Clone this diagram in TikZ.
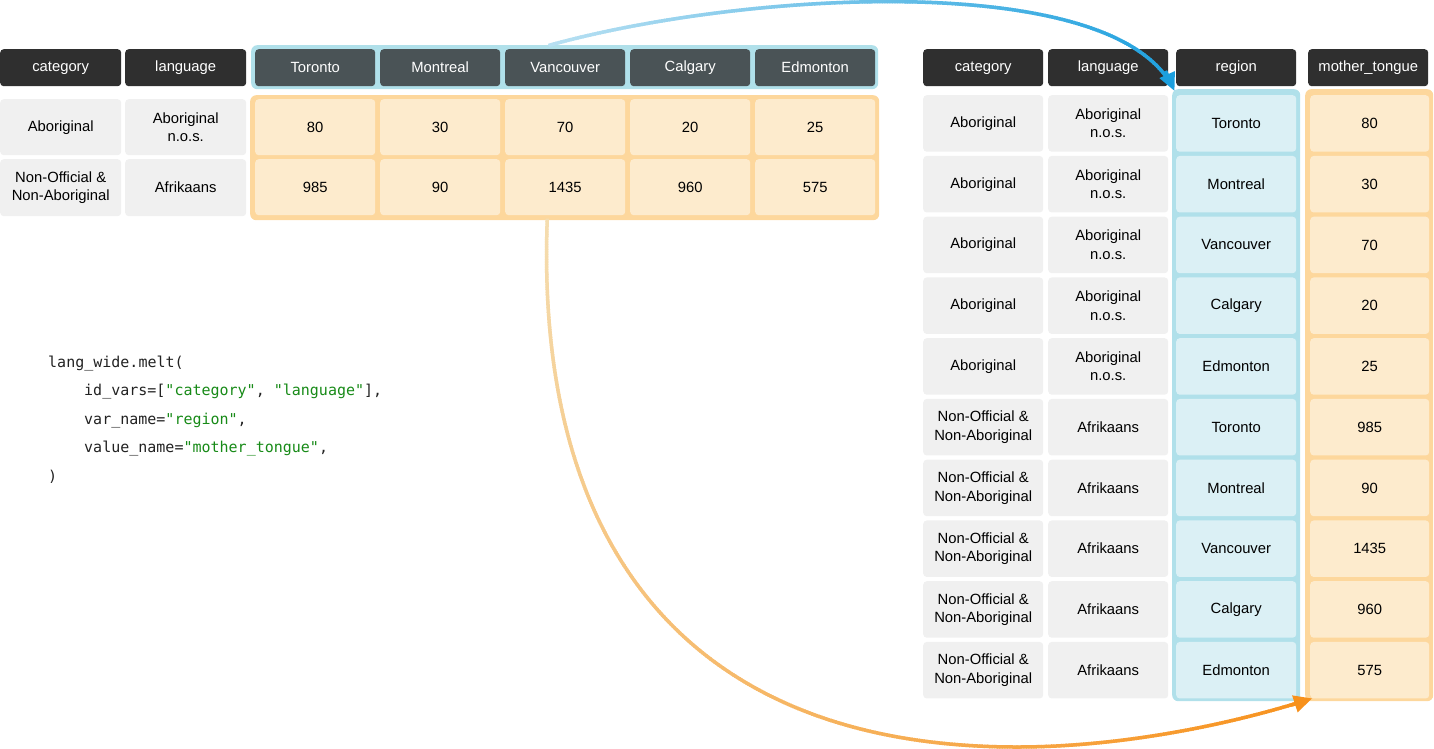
\documentclass[tikz,border=0pt]{standalone}
\usepackage{fontspec}
\setmainfont{Liberation Sans}
\newfontfamily\codefont{DejaVu Sans Mono}
\usetikzlibrary{arrows.meta,decorations.markings,calc}
\definecolor{hdrdark}{HTML}{2F2F2F}
\definecolor{hdrcity}{HTML}{4A5356}
\definecolor{greycell}{HTML}{F0F0F0}
\definecolor{blueout}{HTML}{B0E0EA}
\definecolor{bluecell}{HTML}{DBF0F5}
\definecolor{orout}{HTML}{FDD79C}
\definecolor{orcell}{HTML}{FDEBCD}
\definecolor{codegreen}{HTML}{178A17}
\definecolor{codeblack}{HTML}{222222}
\definecolor{bS}{HTML}{B8E0F2}
\definecolor{bE}{HTML}{1B9FDE}
\definecolor{oS}{HTML}{F5DDB0}
\definecolor{oE}{HTML}{F7911C}
\newcommand\catA{Aboriginal}
\newcommand\catB{Non-Official \&\\Non-Aboriginal}
\newcommand\langA{Aboriginal\\n.o.s.}
\newcommand\langB{Afrikaans}
\newcommand\gstr[1]{\textcolor{codegreen}{#1}}
\begin{document}
\begin{tikzpicture}[x=1pt,y=-1pt,
  cellbase/.style={anchor=north west, inner sep=0pt, rounded corners=3.5pt, align=center,
    font=\fontsize{14.8}{18.5}\selectfont, text=black},
  hdr/.style={cellbase, fill=hdrdark, text=white, minimum height=37pt, minimum width=120pt,
    text height=10.6pt, text depth=2.2pt},
  cityhdr/.style={cellbase, fill=hdrcity, text=white, minimum height=37pt, minimum width=120pt},
  greyc/.style={cellbase, fill=greycell, minimum width=120pt},
  orc/.style={cellbase, fill=orcell, minimum width=120pt},
  bluec/.style={cellbase, fill=bluecell, minimum width=120pt},
  grp/.style={anchor=north west, inner sep=0pt, rounded corners=6pt},
  codeline/.style={anchor=base west, inner sep=0pt, text=codeblack,
    font=\codefont\fontsize{15}{18}\selectfont},
  gradline/.style n args={2}{decoration={markings,
      mark=between positions 0 and -12pt step 2.5pt with {
        \pgfmathsetmacro\gpct{(\pgfkeysvalueof{/pgf/decoration/mark info/distance from start})/(\pgfdecoratedpathlength)*100}
        \draw[line width=3.5pt, color=#2!\gpct!#1] (-1.8pt,0pt) -- (1.8pt,0pt);
      }}, decorate},
]
\useasboundingbox (0,0) rectangle (1434,749);
% ---------- left (wide) table ----------
\node[hdr, minimum width=121pt] (lcath) at (0,49) {category};
\node[hdr, minimum width=121pt] (llangh) at (125,49) {language};
\node[grp, fill=blueout, minimum width=627pt, minimum height=44pt] (hgrp) at (251,45) {};
\node[grp, fill=orout, minimum width=629pt, minimum height=125pt] (ogrp) at (250,95) {};
\node[cityhdr] (hTor) at (255,49) {Toronto};
\node[cityhdr] (hMon) at (380,49) {Montreal};
\node[cityhdr] (hVan) at (505,49) {Vancouver};
\node[cityhdr] (hCal) at (630,49) {Calgary};
\node[cityhdr] (hEdm) at (755,49) {Edmonton};
\node[greyc, minimum width=121pt, minimum height=56pt] (lc1) at (0,99) {\catA};
\node[greyc, minimum width=121pt, minimum height=56pt] (ll1) at (125,99) {\langA};
\node[greyc, minimum width=121pt, minimum height=57pt] (lc2) at (0,159) {\catB};
\node[greyc, minimum width=121pt, minimum height=57pt] (ll2) at (125,159) {\langB};
\node[orc, minimum height=56pt] (vTor1) at (255,99) {80};
\node[orc, minimum height=56pt] (vMon1) at (380,99) {30};
\node[orc, minimum height=56pt] (vVan1) at (505,99) {70};
\node[orc, minimum height=56pt] (vCal1) at (630,99) {20};
\node[orc, minimum height=56pt] (vEdm1) at (755,99) {25};
\node[orc, minimum height=56pt] (vTor2) at (255,159) {985};
\node[orc, minimum height=56pt] (vMon2) at (380,159) {90};
\node[orc, minimum height=56pt] (vVan2) at (505,159) {1435};
\node[orc, minimum height=56pt] (vCal2) at (630,159) {960};
\node[orc, minimum height=56pt] (vEdm2) at (755,159) {575};
% ---------- code ----------
\node[codeline] (code1) at (48,367) {lang\_wide.melt(};
\node[codeline] (code2) at (48,395.5) {\hspace*{36pt}id\_vars=[\gstr{"category"}, \gstr{"language"}],};
\node[codeline] (code3) at (48,424) {\hspace*{36pt}var\_name=\gstr{"region"},};
\node[codeline] (code4) at (48,452.5) {\hspace*{36pt}value\_name=\gstr{"mother\_tongue"},};
\node[codeline] (code5) at (48,481) {)};
% ---------- right (long) table ----------
\node[hdr] (rcath) at (923,49) {category};
\node[hdr] (rlangh) at (1048,49) {language};
\node[hdr] (rregh) at (1176,49) {region};
\node[hdr] (rmth) at (1308,49) {mother\_tongue};
\node[grp, fill=blueout, minimum width=128pt, minimum height=612pt] (rgrp) at (1172,89) {};
\node[grp, fill=orout, minimum width=128pt, minimum height=612pt] (mgrp) at (1305,89) {};
\foreach \i/\reg/\val/\cc/\ll in {0/Toronto/80/\catA/\langA, 1/Montreal/30/\catA/\langA,
    2/Vancouver/70/\catA/\langA, 3/Calgary/20/\catA/\langA, 4/Edmonton/25/\catA/\langA,
    5/Toronto/985/\catB/\langB, 6/Montreal/90/\catB/\langB, 7/Vancouver/1435/\catB/\langB,
    8/Calgary/960/\catB/\langB, 9/Edmonton/575/\catB/\langB}{
  \pgfmathsetmacro\yy{95+60.75*\i}
  \node[greyc, minimum height=56.5pt] (rc\i) at (923,\yy) {\cc};
  \node[greyc, minimum height=56.5pt] (rl\i) at (1048,\yy) {\ll};
  \node[bluec, minimum height=56.5pt] (rr\i) at (1176,\yy) {\reg};
  \node[orc, minimum width=119pt, minimum height=56.5pt] (rv\i) at (1310,\yy) {\val};
}
% ---------- arrows ----------
\coordinate (bstart) at ($(hgrp.north)+(-14.5,0)$);
\coordinate (bend) at ([xshift=2.5pt,yshift=-2pt]rgrp.north west);
\path[gradline={bS}{bE}] (bstart) .. controls (750,-10) and (1120,-30) .. (bend);
\draw[bE, line width=3.5pt, -{Triangle[length=18pt,width=16pt]}] ($(bend)!22pt!(1120,-30)$) -- (bend);
\coordinate (ostart) at ($(vVan2.south)+(-18,5)$);
\coordinate (oend) at ([xshift=7pt,yshift=3pt]mgrp.south west);
\path[gradline={oS}{oE}] (ostart) .. controls (535,560) and (700,747) .. (1017,747)
   .. controls (1120,747) and (1230,725) .. (oend);
\draw[oE, line width=3.5pt, -{Triangle[length=18pt,width=17pt]}] ($(oend)!22pt!(1230,725)$) -- (oend);
\end{tikzpicture}
\end{document}
